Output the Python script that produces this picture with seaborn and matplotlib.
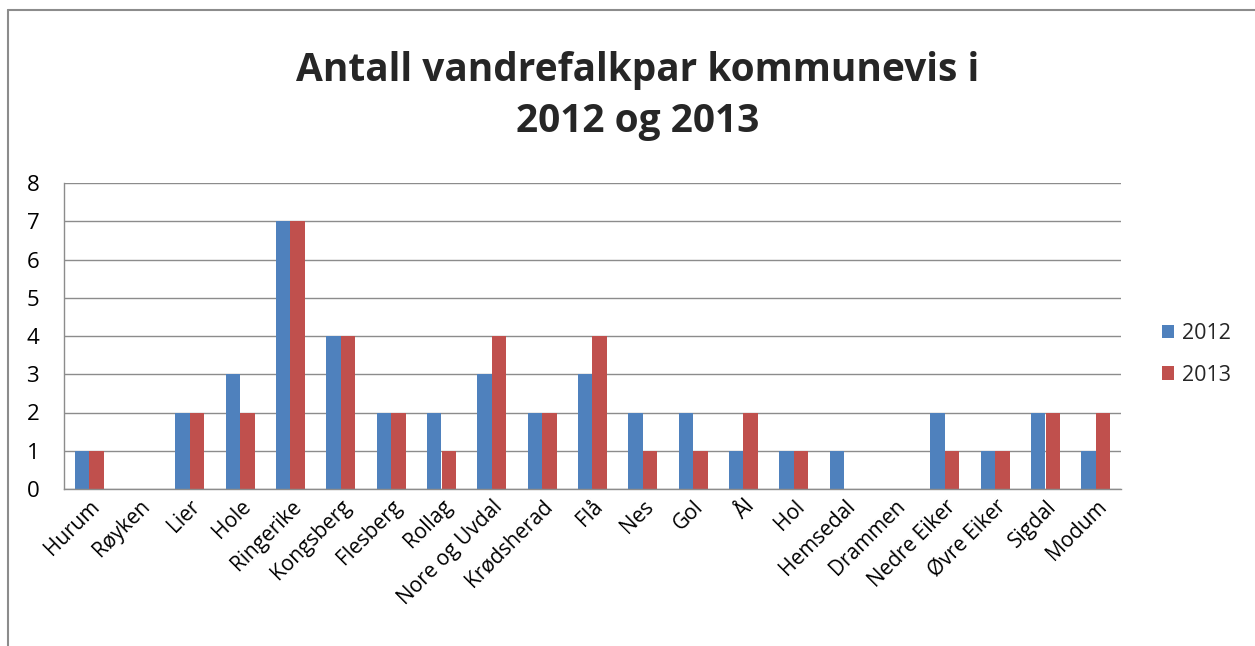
import matplotlib
matplotlib.use("Agg")
import matplotlib.pyplot as plt
import seaborn as sns
import pandas as pd
from matplotlib.lines import Line2D

categories = ["Hurum", "Røyken", "Lier", "Hole", "Ringerike", "Kongsberg", "Flesberg",
              "Rollag", "Nore og Uvdal", "Krødsherad", "Flå", "Nes", "Gol", "Ål", "Hol",
              "Hemsedal", "Drammen", "Nedre Eiker", "Øvre Eiker", "Sigdal", "Modum"]
values_2012 = [1, 0, 2, 3, 7, 4, 2, 2, 3, 2, 3, 2, 2, 1, 1, 1, 0, 2, 1, 2, 1]
values_2013 = [1, 0, 2, 2, 7, 4, 2, 1, 4, 2, 4, 1, 1, 2, 1, 0, 0, 1, 1, 2, 2]
series_names = ["2012", "2013"]
title = "Antall vandrefalkpar kommunevis i\n2012 og 2013"

df = pd.DataFrame({
    "Kommune": categories * 2,
    "Antall": values_2012 + values_2013,
    "År": [series_names[0]] * len(categories) + [series_names[1]] * len(categories),
})

sns.set_theme(style="white")
plt.rcParams["font.family"] = ["Open Sans", "DejaVu Sans"]

W, H = 1255, 646
fig = plt.figure(figsize=(W / 100, H / 100), dpi=100)
left, right, top, bottom = 64, 1121, 183, 489
ax = fig.add_axes([left / W, 1 - bottom / H, (right - left) / W, (bottom - top) / H])

sns.barplot(data=df, x="Kommune", y="Antall", hue="År",
            palette=["#4F81BD", "#C0504D"], width=0.58, ax=ax,
            saturation=1, edgecolor="none", linewidth=0)

ax.set_ylim(0, 8)
ax.set_xlim(-0.5, len(categories) - 0.5)
ax.set_yticks(range(0, 9))
ax.yaxis.grid(True, color="#8C8C8C", linewidth=1.0)
ax.set_axisbelow(True)
for s in ["left", "top", "right", "bottom"]:
    ax.spines[s].set_color("#8C8C8C")
    ax.spines[s].set_linewidth(1.0)
ax.spines["right"].set_visible(False)
ax.spines["top"].set_visible(False)
ax.set_xlabel("")
ax.set_ylabel("")
ax.tick_params(axis="x", length=0, labelsize=15, colors="black", pad=5)
ax.tick_params(axis="y", length=0, labelsize=16, colors="black", pad=27)
for lab in ax.get_yticklabels():
    lab.set_horizontalalignment("left")
plt.setp(ax.get_xticklabels(), rotation=45, ha="right", rotation_mode="anchor")

leg = ax.legend(loc="center left", bbox_to_anchor=(1.02, 0.44), frameon=False,
                fontsize=15.5, handlelength=0.6, handleheight=0.6, handletextpad=0.35,
                labelspacing=0.95)

fig.text(0.508, 1 - 96 / H, title, ha="center", va="center", fontsize=28,
         fontweight="bold", linespacing=1.4)

# chart frame
fig.add_artist(Line2D([8 / W, 8 / W], [1 - 10 / H, 0], color="#8C8C8C", linewidth=1.5,
                      transform=fig.transFigure))
fig.add_artist(Line2D([8 / W, 1], [1 - 10 / H, 1 - 10 / H], color="#8C8C8C", linewidth=1.5,
                      transform=fig.transFigure))

fig.savefig("out.png", dpi=100, facecolor="white")
